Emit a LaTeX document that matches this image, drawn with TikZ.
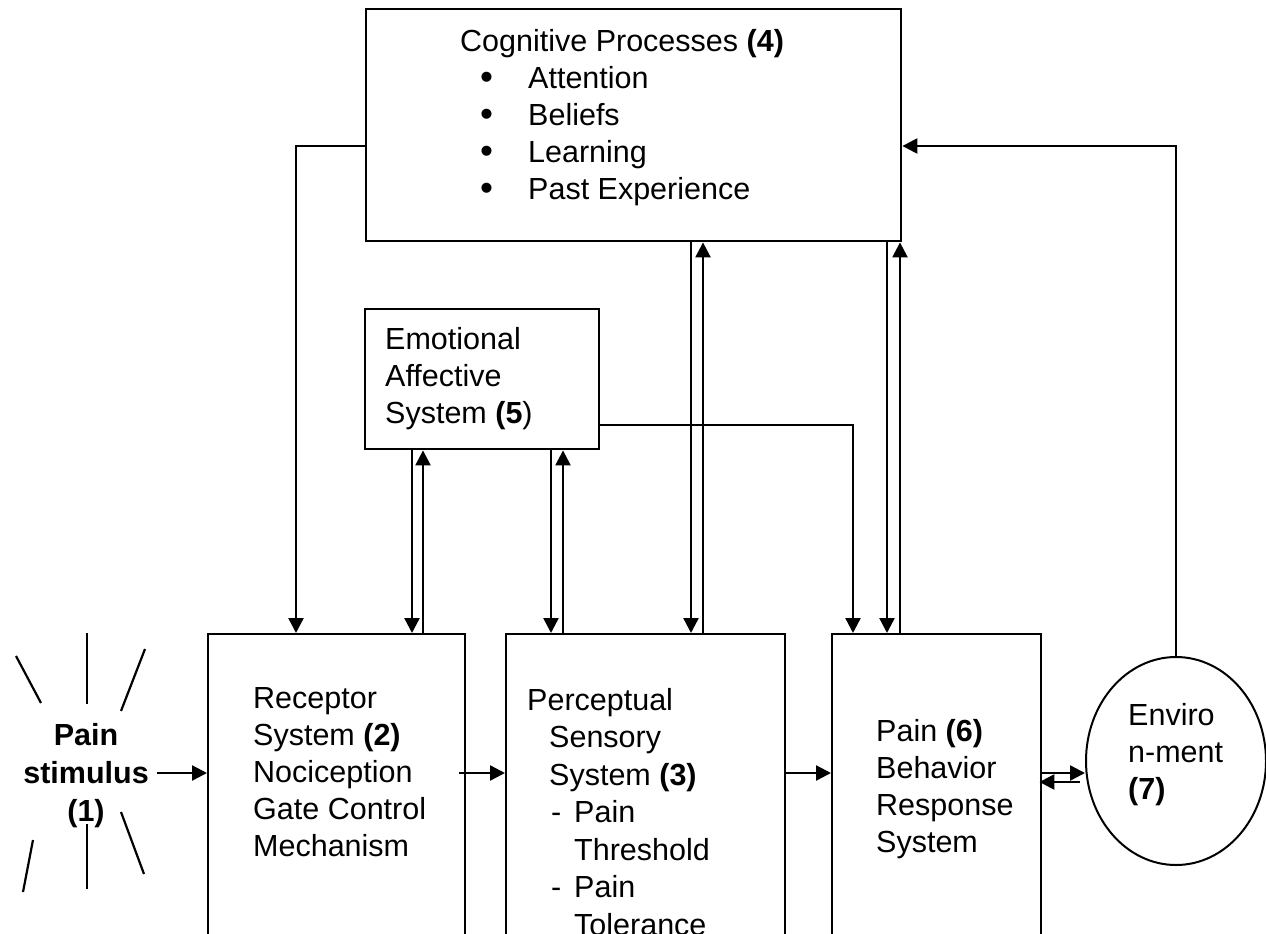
\documentclass[tikz,border=0pt]{standalone}
\usepackage{fontspec}
\setmainfont{Liberation Sans}
\usetikzlibrary{arrows.meta,shapes.geometric}
\newcommand{\bigdot}{\makebox[48pt][l]{\raisebox{-1.5pt}{\fontsize{37}{37}\selectfont\textbullet}}}
\tikzset{
  box/.style={draw,rectangle,anchor=north west,inner sep=0pt,line width=2.4pt},
  txt/.style={anchor=north west,align=left,inner sep=0pt,font=\fontsize{30.5}{37}\selectfont},
  link/.style={line width=2.4pt,-{Triangle[length=15pt,width=15pt]}},
  ray/.style={line width=2.2pt},
}
\begin{document}
\begin{tikzpicture}[x=1pt,y=-1pt]
\useasboundingbox (0,0) rectangle (1266,934);
\clip (0,0) rectangle (1266,934);

\node[box,minimum width=535pt,minimum height=232pt](cog) at (365,8) {};
\node[box,minimum width=234pt,minimum height=140pt](emo) at (364,308) {};
\node[box,minimum width=257pt,minimum height=400pt](rec) at (207,633) {};
\node[box,minimum width=279pt,minimum height=400pt](per) at (505,633) {};
\node[box,minimum width=209pt,minimum height=400pt](pain) at (831,633) {};
\node[draw,ellipse,line width=2pt,inner sep=0pt,minimum width=180pt,minimum height=208pt](env) at (1176,761) {};

\node[txt](cogtxt) at (460,29) {Cognitive Processes \textbf{(4)}\\
  \hspace*{20pt}\bigdot Attention\\
  \hspace*{20pt}\bigdot Beliefs\\
  \hspace*{20pt}\bigdot Learning\\
  \hspace*{20pt}\bigdot Past Experience};
\node[txt](emotxt) at (385,327) {Emotional\\Affective\\System \textbf{(5})};
\node[txt](rectxt) at (253,687) {Receptor\\System \textbf{(2)}\\Nociception\\Gate Control\\Mechanism};
\node[txt,font=\fontsize{30.5}{37.5}\selectfont](pertxt) at (527,688) {Perceptual\\
  \hspace*{22pt}Sensory\\
  \hspace*{22pt}System \textbf{(3)}\\
  \hspace*{24pt}\makebox[23pt][l]{-}Pain\\
  \hspace*{47pt}Threshold\\
  \hspace*{24pt}\makebox[23pt][l]{-}Pain\\
  \hspace*{47pt}Tolerance};
\node[txt](paintxt) at (876,719) {Pain \textbf{(6)}\\Behavior\\Response\\System};
\node[txt](envtxt) at (1128,703) {Enviro\\n-ment\\\textbf{(7)}};
\node[txt,anchor=north,align=center,font=\bfseries\fontsize{30.5}{38}\selectfont](stim) at (86,723) {Pain\\stimulus\\(1)};

\draw[ray] (16,656) -- (41,703);
\draw[ray] (87,633) -- (87,704);
\draw[ray] (145,649) -- (121,711);
\draw[ray] (33,840) -- (23,892);
\draw[ray] (87,824) -- (87,889);
\draw[ray] (121,812) -- (144,874);

\coordinate (r1) at (0,146);
\coordinate (r2) at (0,425);
\coordinate (row) at (0,773);
\coordinate (back) at (0,782);
\coordinate (stimout) at (157,773);
\coordinate (ca) at (296,0);
\coordinate (cb) at (412,0);
\coordinate (cc) at (423,0);
\coordinate (cd) at (551,0);
\coordinate (ce) at (563,0);
\coordinate (cf) at (691,0);
\coordinate (cg) at (703,0);
\coordinate (ch) at (853,0);
\coordinate (ci) at (887,0);
\coordinate (cj) at (900,0);

\draw[link] (stimout) -- (stimout -| rec.west);
\draw[link] ([xshift=-7pt]rec.east |- row) -- (per.west |- row);
\draw[link] (per.east |- row) -- (pain.west |- row);
\draw[link] (pain.east |- row) -- (env.west |- row);
\draw[link] ([xshift=-5pt]env.west |- back) -- ([xshift=-3pt]pain.east |- back);

\draw[link] (cog.west |- r1) -| (rec.north -| ca);
\draw[link] (emo.south -| cb) -- (rec.north -| cb);
\draw[link] (rec.north -| cc) -- (emo.south -| cc);
\draw[link] (emo.south -| cd) -- (per.north -| cd);
\draw[link] (per.north -| ce) -- (emo.south -| ce);
\draw[link] (cog.south -| cf) -- (per.north -| cf);
\draw[link] (per.north -| cg) -- (cog.south -| cg);
\draw[link] (emo.east |- r2) -| (pain.north -| ch);
\draw[link] (cog.south -| ci) -- (pain.north -| ci);
\draw[link] (pain.north -| cj) -- (cog.south -| cj);
\draw[link] (env.north) |- (cog.east |- r1);
\end{tikzpicture}
\end{document}
